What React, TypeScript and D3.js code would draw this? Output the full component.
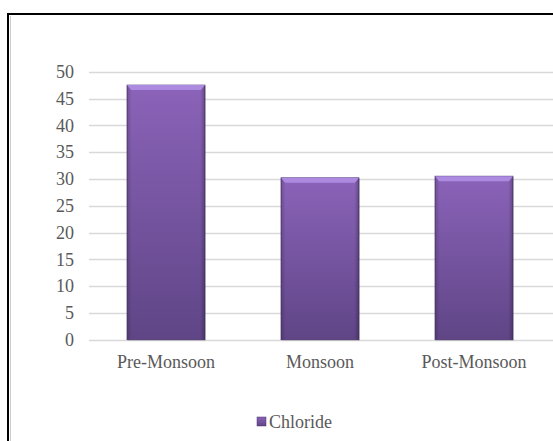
import React, { useEffect, useRef } from "react";
import * as d3 from "d3";

const categories = ["Pre-Monsoon", "Monsoon", "Post-Monsoon"];
const chloride = [47.5, 30.2, 30.5];
const yTicks = [0, 5, 10, 15, 20, 25, 30, 35, 40, 45, 50];
const seriesName = "Chloride";

const App: React.FC = () => {
  const svgRef = useRef<SVGSVGElement | null>(null);
  const width = 553;
  const height = 441;

  useEffect(() => {
    const svg = d3.select(svgRef.current);
    svg.selectAll("*").remove();

    const left = 89;
    const right = 551;
    const top = 71.7;
    const bottom = 339.7;
    const font = "Liberation Serif";
    const textColor = "#595959";

    const defs = svg.append("defs");
    const grad = defs
      .append("linearGradient")
      .attr("id", "barGrad")
      .attr("x1", 0)
      .attr("y1", 0)
      .attr("x2", 0)
      .attr("y2", 1);
    grad.append("stop").attr("offset", "0%").attr("stop-color", "#8b63b9");
    grad.append("stop").attr("offset", "100%").attr("stop-color", "#5f4586");

    const side = defs
      .append("linearGradient")
      .attr("id", "sideGrad")
      .attr("x1", 0)
      .attr("y1", 0)
      .attr("x2", 1)
      .attr("y2", 0);
    side.append("stop").attr("offset", "0%").attr("stop-color", "#000").attr("stop-opacity", 0.18);
    side.append("stop").attr("offset", "6%").attr("stop-color", "#000").attr("stop-opacity", 0);
    side.append("stop").attr("offset", "94%").attr("stop-color", "#000").attr("stop-opacity", 0);
    side.append("stop").attr("offset", "100%").attr("stop-color", "#000").attr("stop-opacity", 0.25);

    // outer frame: only left and top edges are inside the picture
    svg
      .append("path")
      .attr("d", "M8,445V14H560")
      .attr("fill", "none")
      .attr("stroke", "#000")
      .attr("stroke-width", 2);
    svg
      .append("line")
      .attr("x1", 10.5)
      .attr("x2", 10.5)
      .attr("y1", 16)
      .attr("y2", 441)
      .attr("stroke", "#ccc")
      .attr("stroke-width", 1);

    const x = d3.scaleBand().domain(categories).range([left, right]).paddingInner(0.494).paddingOuter(0.247);
    const y = d3.scaleLinear().domain([0, 50]).range([bottom, top]);

    const g = svg.append("g");

    g.selectAll(".grid")
      .data(yTicks)
      .enter()
      .append("line")
      .attr("x1", left)
      .attr("x2", 553)
      .attr("y1", (d) => Math.round(y(d)) + 0.5)
      .attr("y2", (d) => Math.round(y(d)) + 0.5)
      .attr("stroke", "#d9d9d9")
      .attr("stroke-width", 1.3);

    g.selectAll(".ytick")
      .data(yTicks)
      .enter()
      .append("text")
      .attr("x", 74)
      .attr("y", (d) => y(d))
      .attr("dy", "0.35em")
      .attr("text-anchor", "end")
      .attr("font-family", font)
      .attr("font-size", 18)
      .attr("fill", textColor)
      .text((d) => d);

    const bars = g
      .selectAll(".bar")
      .data(categories)
      .enter()
      .append("g");

    const bw = x.bandwidth();
    // shadow
    bars
      .append("rect")
      .attr("x", (d) => (x(d) as number) + 1)
      .attr("y", (d, i) => y(chloride[i]) + 1)
      .attr("width", bw)
      .attr("height", (d, i) => bottom - y(chloride[i]))
      .attr("fill", "#000")
      .attr("opacity", 0.12);
    bars
      .append("rect")
      .attr("x", (d) => x(d) as number)
      .attr("y", (d, i) => y(chloride[i]))
      .attr("width", bw)
      .attr("height", (d, i) => bottom - y(chloride[i]))
      .attr("fill", "url(#barGrad)")
      .attr("stroke", "#4d3670")
      .attr("stroke-width", 0.8);
    bars
      .append("rect")
      .attr("x", (d) => x(d) as number)
      .attr("y", (d, i) => y(chloride[i]))
      .attr("width", bw)
      .attr("height", (d, i) => bottom - y(chloride[i]))
      .attr("fill", "url(#sideGrad)");
    // top bevel
    bars
      .append("path")
      .attr("d", (d, i) => {
        const x0 = x(d) as number;
        const y0 = y(chloride[i]);
        return `M${x0},${y0}L${x0 + bw},${y0}L${x0 + bw - 4},${y0 + 5}L${x0 + 4},${y0 + 5}Z`;
      })
      .attr("fill", "#ab8ae0");

    g.selectAll(".xlabel")
      .data(categories)
      .enter()
      .append("text")
      .attr("x", (d) => (x(d) as number) + bw / 2)
      .attr("y", 362)
      .attr("dy", "0.35em")
      .attr("text-anchor", "middle")
      .attr("font-family", font)
      .attr("font-size", 18)
      .attr("fill", textColor)
      .text((d) => d);

    // legend
    const lg = svg.append("g").attr("transform", "translate(257, 417)");
    lg.append("rect")
      .attr("width", 9)
      .attr("height", 9)
      .attr("fill", "url(#barGrad)")
      .attr("stroke", "#4d3670")
      .attr("stroke-width", 0.5);
    lg.append("text")
      .attr("x", 12)
      .attr("y", 4.5)
      .attr("dy", "0.35em")
      .attr("font-family", font)
      .attr("font-size", 18)
      .attr("fill", textColor)
      .text(seriesName);
  }, []);

  return (
    <svg
      ref={svgRef}
      width={width}
      height={height}
      style={{ position: "fixed", left: 0, top: 0, background: "#fff" }}
    ></svg>
  );
};

export default App;
